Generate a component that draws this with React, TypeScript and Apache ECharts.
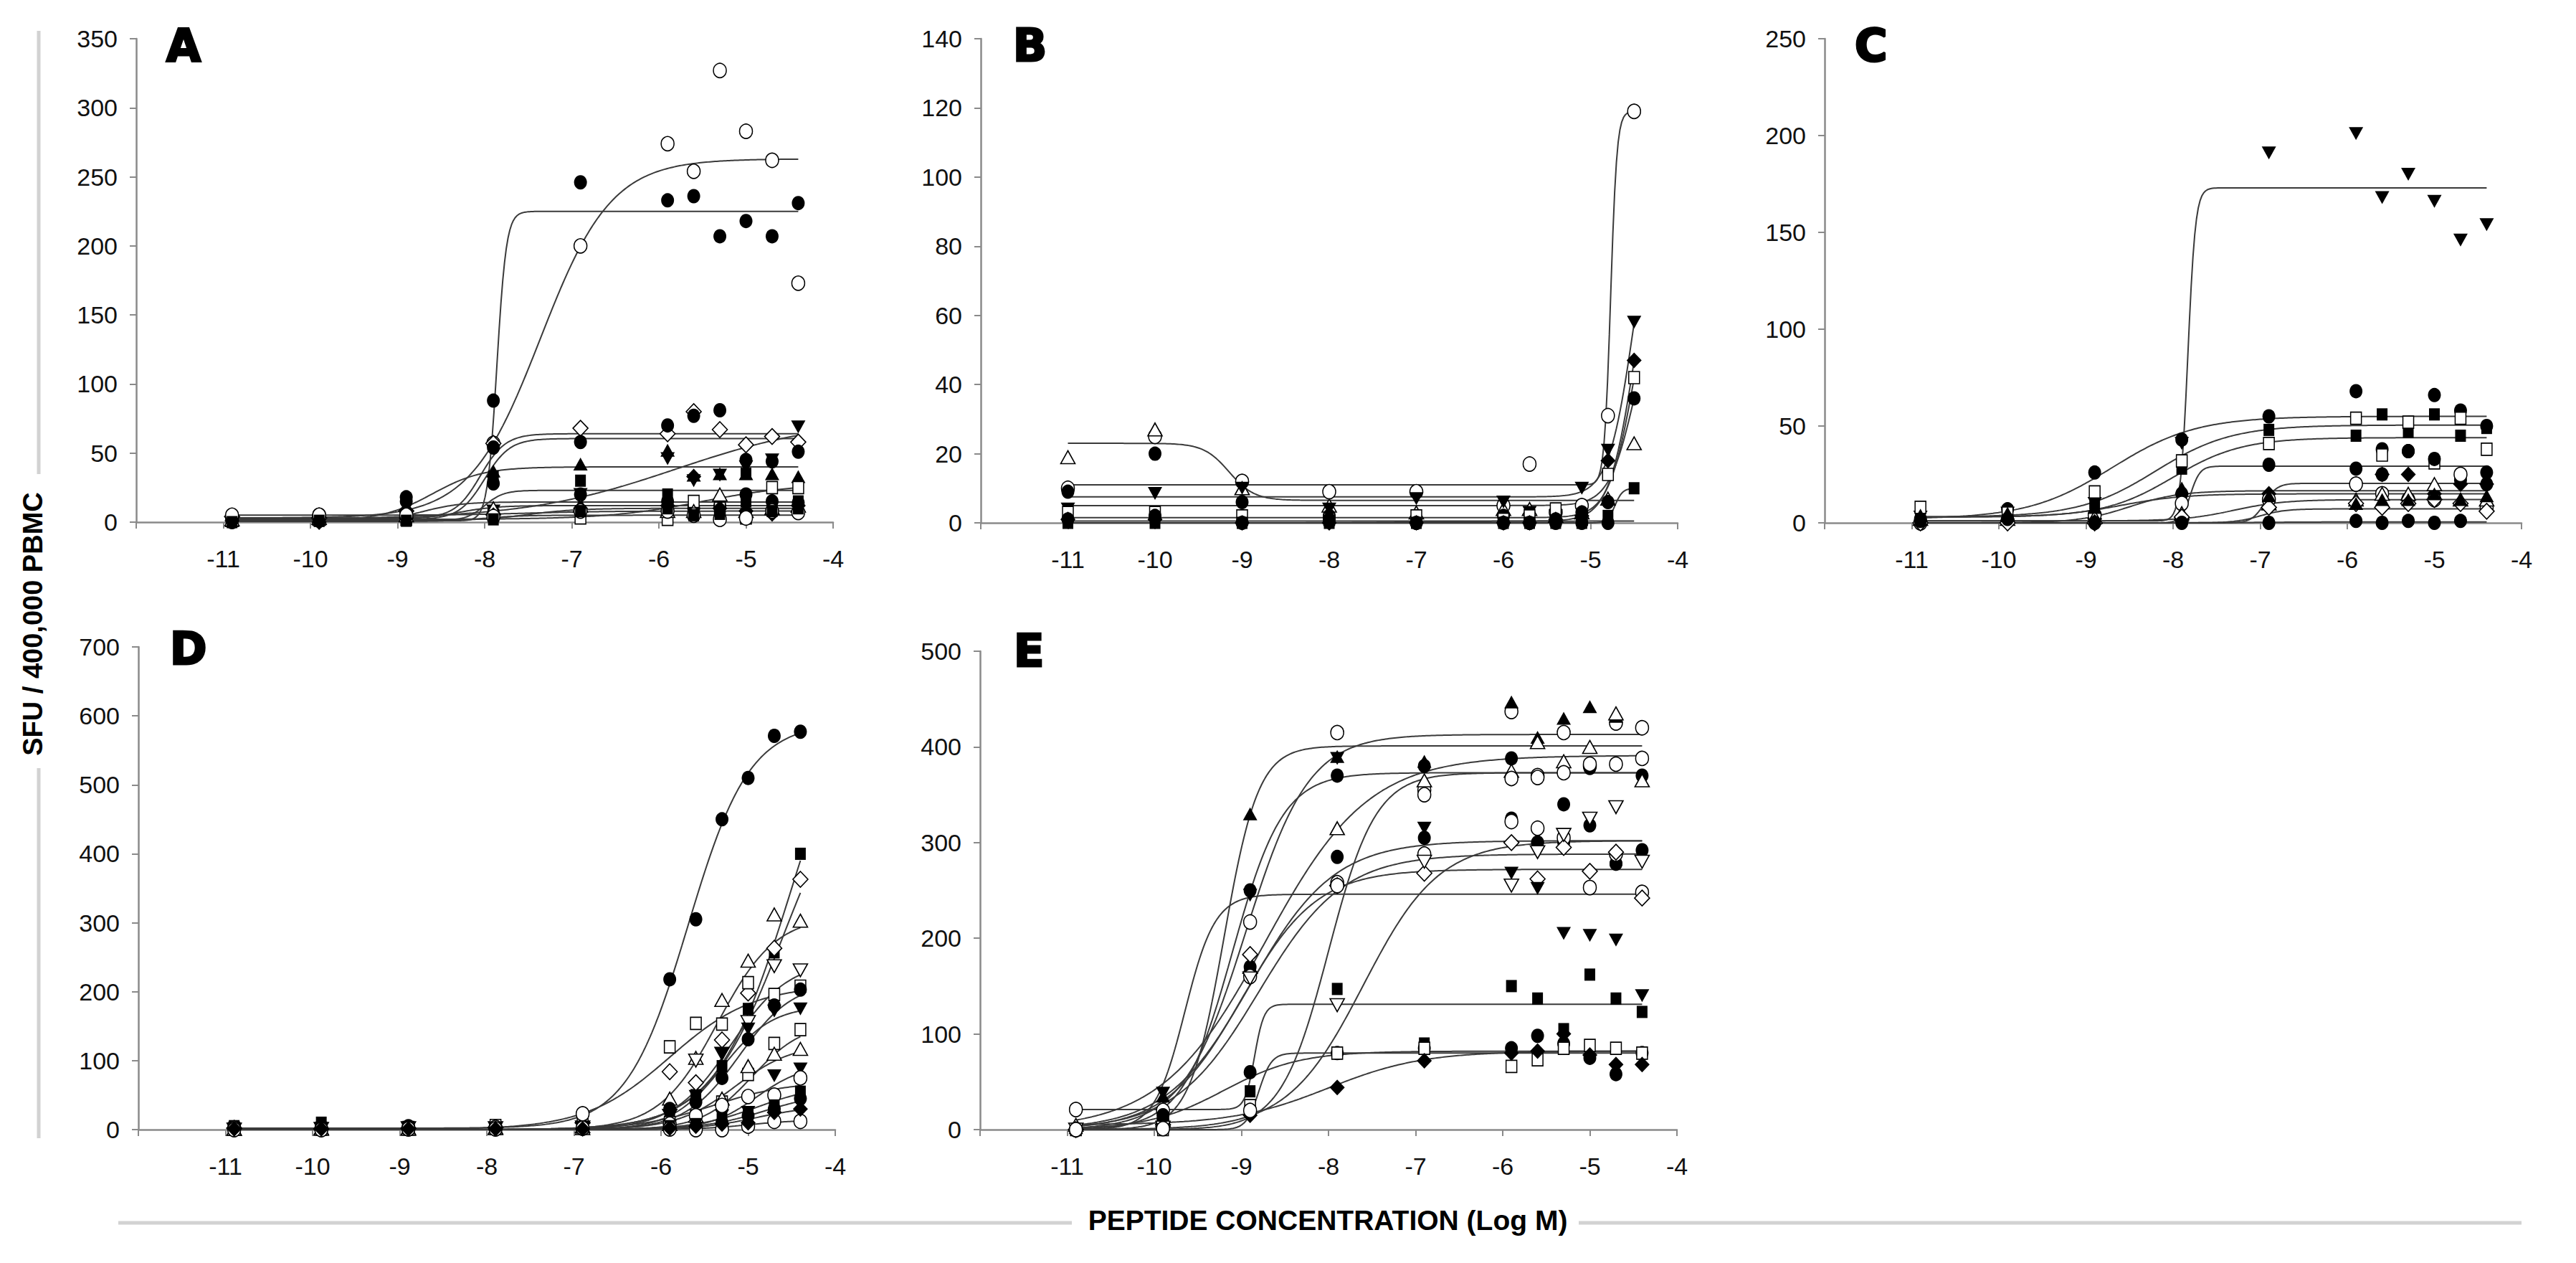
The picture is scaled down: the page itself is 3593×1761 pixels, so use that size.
import React, { useEffect, useRef } from "react";
import * as echarts from "echarts";

// ---------- data ----------
type Fit = [number, number, number, number]; // bottom, top, logEC50, hill

const xA = [-10.9, -9.9, -8.9, -7.9, -6.9, -5.9, -5.6, -5.3, -5.0, -4.7, -4.4];
const xB = [-11, -10, -9, -8, -7, -6, -5.7, -5.4, -5.1, -4.8, -4.5];
const xC = [-10.9, -9.9, -8.9, -7.9, -6.9, -5.9, -5.6, -5.3, -5.0, -4.7, -4.4];
const xD = [-10.9, -9.9, -8.9, -7.9, -6.9, -5.9, -5.6, -5.3, -5.0, -4.7, -4.4];
const xE = [-10.9, -9.9, -8.9, -7.9, -6.9, -5.9, -5.6, -5.3, -5.0, -4.7, -4.4];

const xTicks = [-11, -10, -9, -8, -7, -6, -5, -4];

const markersA = ["oc", "fc", "od", "fc", "ft", "fv", "fs", "fc", "os", "ot", "fd", "oc", "fs"];
const valuesA: (number | null)[][] = [
  [3, 5, 4, 57, 200, 274, 254, 327, 283, 262, 173],
  [1, 1, 5, 88, 246, 233, 236, 207, 218, 207, 231],
  [4, 3, 8, 57, 68, 64, 80, 67, 56, 62, 58],
  [2, 2, 18, 54, 58, 70, 77, 81, 45, 44, 51],
  [1, 2, 12, 37, 42, 52, 34, 35, 35, 35, 33],
  [1, 0, 2, 8, 20, 46, 30, 34, 40, 45, 69],
  [1, 1, 2, 33, 30, 20, 15, 10, 35, 12, 15],
  [0, 1, 15, 28, 20, 15, 10, 12, 20, 15, 14],
  [2, 3, 2, 5, 3, 2, 15, 10, 3, 25, 25],
  [2, 3, 5, 10, 12, 8, 8, 20, 8, 10, 12],
  [1, 0, 3, 5, 10, 12, 33, 10, 8, 6, 12],
  [5, 5, 5, 4, 8, 8, 5, 2, 3, 8, 7],
  [0, 1, 1, 2, 8, 10, 5, 6, 15, 8, 10],
];
const fitsA: Fit[] = [
  [3, 263, -7.36, 1.07],
  [1, 225, -7.86, 8],
  [3, 64, -8.05, 3],
  [2, 60.5, -8.0, 3],
  [1, 40, -8.6, 1.5],
  [2, 75, -5.8, 0.5],
  [1, 23, -8.0, 4],
  [1, 14.6, -8.7, 2],
  [2, 28, -5.5, 0.8],
  [2, 12, -8.3, 2],
  [1, 10, -7.5, 1.5],
  [5, 8, -7.5, 1],
  [0.5, 5, -8, 2],
];

const markersB = ["oc", "ot", "fv", "fc", "os", "fd", "fs", "fc"];
const valuesB: (number | null)[][] = [
  [10, 25, 12, 9, 9, 5, 17, 3, 5, 31, 119],
  [19, 27, 10, 5, 3, 4, 4, 2, 3, 7, 23],
  [4, 8.5, 10, 4, 7, 6, 3, 2, 10, 21, 58],
  [9, 20, 6, 2, 0, 2, 0, 0, 3, 6, 36],
  [3, 3, 2, 1, 2, 1, 2, 4, 1, 14, 42],
  [1, 1, 0, 0, 0, 0, 0, 1, 2, 18, 47],
  [0, 0, 0, 0, 0, 0, 0, 0, 0, 2, 10],
  [1, 2, 0, 1, 0, 0, 0, 1, 0, 0, null],
];
const fitsB: Fit[] = [
  [11, 119, -4.77, 12],
  [23, 6.5, -9.15, 3],
  [7.5, 108, -4.5, 3],
  [5, 67, -4.5, 3],
  [1.5, 82, -4.5, 3],
  [0.5, 93, -4.5, 3],
  [0, 10, -4.72, 10],
  [0, 0.5, -7, 1],
];

const markersC = ["fv", "fc", "fs", "os", "fc", "fd", "oc", "ot", "od", "fc", "ft"];
const valuesC: (number | null)[][] = [
  [3, 5, 10, 41, 191, 201, 168, 180, 166, 146, 154],
  [2, 7, 26, 43, 55, 68, 38, 37, 66, 58, 50],
  [3, 6, 10, 28, 48, 45, 56, 47, 56, 45, 49],
  [8, 5, 16, 32, 41, 54, 35, 52, 31, 54, 38],
  [0, 1, 0, 15, 30, 28, 25, 37, 33, 22, 26],
  [0, 1, 2, 1, 15, 10, 25, 25, 15, 20, 20],
  [0, 1, 4, 10, 12, 20, 15, 12, 12, 25, 8],
  [2, 2, 3, 5, 10, 12, 15, 15, 20, 12, 12],
  [0, 0, 0, 3, 8, 10, 8, 10, 12, 10, 6],
  [1, 2, 0, 0, 0, 1, 0, 1, 0, 1, 20],
  [4, 5, 8, 18, 14, 10, 12, 12, 15, 12, 14],
];
const fitsC: Fit[] = [
  [1, 173, -7.83, 10],
  [2, 55, -8.7, 0.9],
  [3, 50.5, -8.2, 1.0],
  [3, 44, -8.0, 1.1],
  [0, 29.3, -7.8, 8],
  [0, 20.4, -6.95, 6],
  [0, 16.6, -8.5, 1.5],
  [1, 12, -7.3, 1.5],
  [0, 7.2, -7.0, 3],
  [0, 0.5, -7, 1],
  [3, 15, -8.6, 1.2],
];

const markersD = ["fc", "fs", "od", "ot", "ov", "os", "fc", "fv", "os", "ot", "fv", "oc", "fs", "fc", "oc", "fd"];
const valuesD: (number | null)[][] = [
  [3, 3, 5, 5, 23, 218, 305, 450, 510, 571, 577],
  [5, 10, 3, 4, 8, 28, 50, 92, 175, 257, 400],
  [2, 1, 2, 3, 10, 84, 68, 130, 198, 263, 363],
  [1, 2, 2, 3, 5, 45, 104, 188, 245, 312, 303],
  [0, 1, 2, 2, 3, 20, 100, 110, 156, 237, 231],
  [2, 2, 3, 6, 15, 120, 154, 153, 213, 196, 208],
  [2, 2, 3, 4, 5, 30, 40, 75, 131, 180, 203],
  [1, 1, 2, 2, 3, 20, 48, 110, 146, 172, 175],
  [1, 1, 1, 2, 3, 10, 20, 40, 80, 125, 145],
  [1, 1, 1, 2, 2, 8, 20, 45, 92, 110, 117],
  [1, 1, 1, 1, 2, 5, 10, 20, 25, 78, 88],
  [2, 1, 2, 3, 23, 8, 20, 35, 48, 50, 75],
  [1, 0, 1, 1, 2, 5, 8, 15, 25, 35, 55],
  [1, 1, 1, 1, 2, 3, 5, 10, 20, 30, 45],
  [0, 0, 1, 1, 2, 1, 0, 0, 5, 12, 12],
  [1, 1, 1, 1, 1, 2, 5, 8, 10, 25, 30],
];
const fitsD: Fit[] = [
  [2, 590, -5.69, 1.23],
  [0, 700, -4.5, 1],
  [0, 560, -4.6, 1],
  [0, 310, -5.35, 1.3],
  [0, 245, -5.2, 1.3],
  [0, 210, -5.9, 0.9],
  [0, 215, -5.1, 1.4],
  [0, 180, -5.3, 1.5],
  [0, 155, -4.95, 1.5],
  [0, 125, -5.15, 1.3],
  [0, 95, -4.9, 1.6],
  [0, 70, -5.4, 1],
  [0, 65, -4.9, 1.2],
  [0, 55, -4.8, 1.2],
  [0, 14, -5.0, 1.5],
  [0, 35, -4.9, 1.3],
];

const markersE = ["oc", "ft", "fc", "ot", "fc", "oc", "od", "fv", "fs", "fc", "os", "fd", "ov", "oc"];
const valuesE: (number | null)[][] = [
  [21, 20, 217, 415, 355, 437, 370, 415, 380, 425, 420],
  [2, 35, 330, 390, 385, 447, 410, 430, 442, 432, null],
  [1, 15, 250, 370, 380, 388, 300, 340, 378, 278, 370],
  [5, 10, 170, 315, 365, 375, 405, 385, 400, 435, 365],
  [0, 10, 170, 285, 305, 325, 300, 300, 318, 278, 292],
  [0, 5, 160, 258, 288, 322, 315, 305, 253, 288, 248],
  [0, 5, 183, 255, 268, 300, 262, 295, 270, 290, 242],
  [0, 38, 245, 388, 315, 268, 252, 205, 203, 198, 140],
  [0, 10, 40, 147, 90, 150, 137, 105, 162, 137, 123],
  [0, 5, 60, 80, 85, 85, 98, 90, 75, 58, 80],
  [0, 0, 25, 80, 85, 66, 73, 85, 88, 85, 80],
  [0, 2, 15, 44, 72, 80, 82, 100, 78, 68, 68],
  [0, 2, 158, 130, 280, 255, 290, 308, 325, 337, 280],
  [0, 1, 20, 255, 350, 367, 368, 373, 382, 382, 388],
];
const fitsE: Fit[] = [
  [0, 413, -8.95, 1.2],
  [0, 401, -9.2, 2.2],
  [0, 373, -9.1, 1.5],
  [0, 391, -8.73, 0.73],
  [0, 302, -8.9, 0.9],
  [0, 288, -8.8, 0.9],
  [0, 272, -9.0, 1.0],
  [0, 246, -9.65, 2.5],
  [21, 131, -8.85, 8],
  [0, 82, -9.2, 1.0],
  [0, 80, -8.8, 6],
  [5, 82, -8.0, 0.8],
  [0, 302, -7.6, 1.0],
  [0, 373, -8.0, 1.6],
];

const yMaxes = [350, 140, 250, 700, 500];
const yIntervals = [50, 20, 50, 100, 100];
const panelLetters = ["A", "B", "C", "D", "E"];

const yTitle = "SFU / 400,000 PBMC";
const xTitle = "PEPTIDE CONCENTRATION (Log M)";

// ---------- layout ----------
const GRIDS = [
  { left: 190, top: 54, width: 972, height: 674 },
  { left: 1368, top: 54, width: 972, height: 675 },
  { left: 2545, top: 54, width: 972, height: 675 },
  { left: 193, top: 902, width: 972, height: 673 },
  { left: 1367, top: 908, width: 972, height: 667 },
];
const LETTER_POS = [
  [232, 63],
  [1413, 63],
  [2587, 63],
  [237, 904],
  [1414, 907],
];

const FONT = "'Liberation Sans', Arial, Helvetica, sans-serif";
const AXIS_COLOR = "#8a8a8a";

const MARK: Record<string, { symbol: string; size: number[]; fill: boolean; rot: number }> = {
  fc: { symbol: "circle", size: [18, 20], fill: true, rot: 0 },
  oc: { symbol: "circle", size: [18, 20], fill: false, rot: 0 },
  fs: { symbol: "rect", size: [15, 17], fill: true, rot: 0 },
  os: { symbol: "rect", size: [15, 17], fill: false, rot: 0 },
  ft: { symbol: "triangle", size: [20, 18], fill: true, rot: 0 },
  ot: { symbol: "triangle", size: [20, 18], fill: false, rot: 0 },
  fv: { symbol: "triangle", size: [20, 18], fill: true, rot: 180 },
  ov: { symbol: "triangle", size: [20, 18], fill: false, rot: 180 },
  fd: { symbol: "diamond", size: [21, 22], fill: true, rot: 0 },
  od: { symbol: "diamond", size: [21, 22], fill: false, rot: 0 },
};

function fourPL(x: number, f: Fit) {
  const [b, t, ec, h] = f;
  return b + (t - b) / (1 + Math.pow(10, h * (ec - x)));
}

function panelSeries(idx: number, xs: number[], markers: string[], values: (number | null)[][], fits: Fit[]) {
  const out: any[] = [];
  values.forEach((vals, i) => {
    const fit = fits[i];
    const lo = xs[0];
    const hi = xs[xs.length - 1];
    const N = 320;
    const curve: number[][] = [];
    for (let k = 0; k <= N; k++) {
      const x = lo + ((hi - lo) * k) / N;
      curve.push([x, fourPL(x, fit)]);
    }
    out.push({
      type: "line",
      xAxisIndex: idx,
      yAxisIndex: idx,
      data: curve,
      symbol: "none",
      showSymbol: false,
      silent: true,
      lineStyle: { color: "#3a3a3a", width: 2 },
      z: 2,
    });
    const m = MARK[markers[i]];
    out.push({
      type: "scatter",
      xAxisIndex: idx,
      yAxisIndex: idx,
      data: vals
        .map((v, j) => (v == null ? null : [xs[j], v]))
        .filter((d) => d != null),
      symbol: m.symbol,
      symbolSize: m.size,
      symbolRotate: m.rot,
      silent: true,
      itemStyle: {
        color: m.fill ? "#000" : "#fff",
        borderColor: "#000",
        borderWidth: m.fill ? 0 : 1.6,
        opacity: 1,
      },
      z: 3,
    });
  });
  return out;
}

export default function App() {
  const ref = useRef<HTMLDivElement | null>(null);

  useEffect(() => {
    document.body.style.margin = "0";
    if (!ref.current) return;
    const chart = echarts.init(ref.current, undefined, { renderer: "svg" });

    const xAxes = GRIDS.map((_, i) => ({
      type: "value",
      gridIndex: i,
      min: -12,
      max: -4,
      interval: 1,
      axisLine: { show: true, onZero: false, lineStyle: { color: AXIS_COLOR, width: 2.5 } },
      axisTick: { show: true, length: 9, lineStyle: { color: AXIS_COLOR, width: 2 } },
      splitLine: { show: false },
      axisLabel: {
        show: true,
        margin: 34,
        fontSize: 34,
        fontFamily: FONT,
        color: "#111",
        formatter: (v: number) => (xTicks.indexOf(v) >= 0 ? String(v) : ""),
      },
    }));
    const yAxes = GRIDS.map((_, i) => ({
      type: "value",
      gridIndex: i,
      min: 0,
      max: yMaxes[i],
      interval: yIntervals[i],
      axisLine: { show: true, lineStyle: { color: AXIS_COLOR, width: 2.5 } },
      axisTick: { show: true, length: 9, lineStyle: { color: AXIS_COLOR, width: 2 } },
      splitLine: { show: false },
      axisLabel: {
        show: true,
        margin: 26,
        fontSize: 34,
        fontFamily: FONT,
        color: "#111",
      },
    }));

    const series = [
      ...panelSeries(0, xA, markersA, valuesA, fitsA),
      ...panelSeries(1, xB, markersB, valuesB, fitsB),
      ...panelSeries(2, xC, markersC, valuesC, fitsC),
      ...panelSeries(3, xD, markersD, valuesD, fitsD),
      ...panelSeries(4, xE, markersE, valuesE, fitsE),
    ];

    const letterEls = panelLetters.map((t, i) => ({
      type: "text",
      x: LETTER_POS[i][0],
      y: LETTER_POS[i][1],
      silent: true,
      style: {
        text: t,
        font: "bold 62px 'DejaVu Sans', 'Liberation Sans', sans-serif",
        fill: "#000",
        stroke: "#000",
        lineWidth: 3,
        align: "left",
        verticalAlign: "middle",
        textAlign: "left",
        textVerticalAlign: "middle",
      },
    }));

    const greyLine = (x1: number, y1: number, x2: number, y2: number) => ({
      type: "line",
      silent: true,
      shape: { x1, y1, x2, y2 },
      style: { stroke: "#d2d2d2", lineWidth: 5 },
    });

    const option: any = {
      animation: false,
      backgroundColor: "#fff",
      grid: GRIDS.map((g) => ({ ...g, containLabel: false })),
      xAxis: xAxes,
      yAxis: yAxes,
      series,
      graphic: [
        greyLine(54, 43, 54, 661),
        greyLine(54, 1071, 54, 1587),
        greyLine(165, 1705, 1495, 1705),
        greyLine(2202, 1705, 3517, 1705),
        {
          type: "text",
          x: 46,
          y: 870,
          rotation: Math.PI / 2,
          silent: true,
          style: {
            text: yTitle,
            font: `bold 38px ${FONT}`,
            fill: "#000",
            align: "center",
            verticalAlign: "middle",
            textAlign: "center",
            textVerticalAlign: "middle",
          },
        },
        {
          type: "text",
          x: 1852,
          y: 1701,
          silent: true,
          style: {
            text: xTitle,
            font: `bold 39px ${FONT}`,
            fill: "#000",
            align: "center",
            verticalAlign: "middle",
            textAlign: "center",
            textVerticalAlign: "middle",
          },
        },
        ...letterEls,
      ],
    };

    chart.setOption(option);
    return () => chart.dispose();
  }, []);

  return (
    <div
      ref={ref}
      style={{ position: "fixed", left: 0, top: 0, width: 3593, height: 1761, background: "#fff" }}
    />
  );
}
